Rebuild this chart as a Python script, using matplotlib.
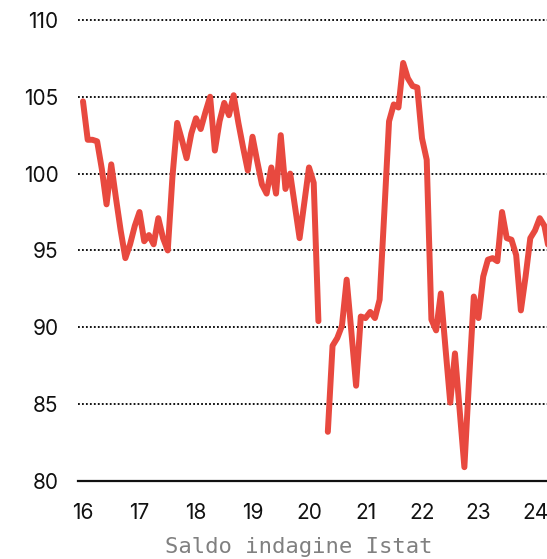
import numpy as np
import matplotlib
matplotlib.use("Agg")
import matplotlib.pyplot as plt

start_year = 2016
values = [
    104.7, 102.2, 102.2, 102.1, 100.3, 98.0, 100.6, 98.4, 96.3, 94.5, 95.4, 96.6,   # 2016
    97.5, 95.6, 96.0, 95.4, 97.1, 95.8, 95.0, 99.8, 103.3, 102.2, 101.0, 102.6,     # 2017
    103.6, 102.9, 104.0, 105.0, 101.5, 103.4, 104.6, 103.8, 105.1, 103.3, 101.7, 100.2,  # 2018
    102.4, 100.8, 99.3, 98.7, 100.4, 98.7, 102.5, 99.0, 100.0, 97.9, 95.8, 98.1,   # 2019
    100.4, 99.4, 90.4, np.nan, 83.2, 88.8, 89.3, 90.1, 93.1, 89.7, 86.2, 90.7,      # 2020
    90.6, 91.0, 90.6, 91.8, 97.5, 103.4, 104.5, 104.3, 107.2, 106.2, 105.7, 105.6,  # 2021
    102.3, 100.9, 90.5, 89.8, 92.2, 88.6, 85.1, 88.3, 84.6, 80.9, 86.6, 92.0,       # 2022
    90.6, 93.3, 94.4, 94.5, 94.3, 97.5, 95.8, 95.7, 94.7, 91.1, 93.3, 95.8,         # 2023
    96.3, 97.1, 96.6, 95.0,                                                          # 2024
]
x_ticks = [16, 17, 18, 19, 20, 21, 22, 23, 24]
y_ticks = [80, 85, 90, 95, 100, 105, 110]
caption = "Saldo indagine Istat"

x = 16 + np.arange(len(values)) / 12.0
y = np.array(values, dtype=float)

W, H = 547, 559
fig = plt.figure(figsize=(W / 100, H / 100), dpi=100)
ax = fig.add_axes([78 / W, 1 - 481 / H, 1 - 78 / W, (481 - 12) / H])

ax.set_xlim(16 - 5 / 56.5, 16 + 464 / 56.5)
ax.set_ylim(80, 80 + (481 - 12) / 15.37)

for v in y_ticks[1:]:
    ax.axhline(v, color="#000000", lw=1.3, linestyle=(0, (1, 1.2)), zorder=1)

ax.plot(x, y, color="#e8493f", lw=4.3, solid_capstyle="round",
        solid_joinstyle="round", zorder=3)

for s in ["top", "right", "left"]:
    ax.spines[s].set_visible(False)
ax.spines["bottom"].set_color("#111111")
ax.spines["bottom"].set_linewidth(1.6)
ax.spines["bottom"].set_zorder(2)

ax.set_xticks(x_ticks)
ax.set_xticklabels([str(t) for t in x_ticks])
ax.set_yticks(y_ticks)
ax.set_yticklabels([str(t) for t in y_ticks])
ax.tick_params(axis="both", length=0, labelsize=15, colors="#111111")
ax.tick_params(axis="x", pad=16)
ax.tick_params(axis="y", pad=14)
for lab in ax.get_xticklabels() + ax.get_yticklabels():
    lab.set_fontfamily("Inter")

fig.text(299 / W, 1 - 547 / H, caption, ha="center", va="center",
         fontsize=16, color="#808080", family="DejaVu Sans Mono")

fig.savefig("out.png", dpi=100)
